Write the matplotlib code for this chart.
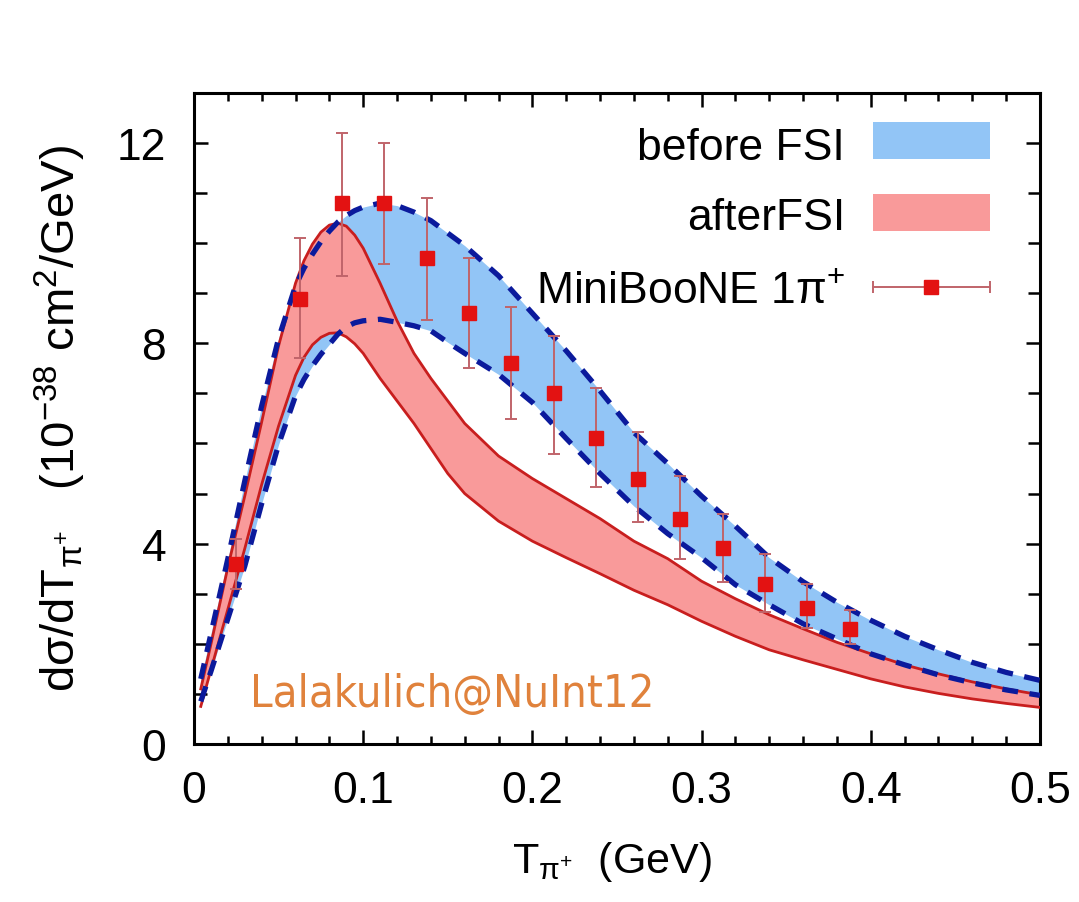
import numpy as np
import matplotlib
matplotlib.use("Agg")
import matplotlib.pyplot as plt
from matplotlib.patches import Rectangle
from matplotlib.ticker import MultipleLocator

plt.rcParams['font.family'] = ['Liberation Sans', 'DejaVu Sans']
plt.rcParams['mathtext.fontset'] = 'custom'
plt.rcParams['mathtext.rm'] = 'Liberation Sans'
plt.rcParams['mathtext.it'] = 'Liberation Sans:italic'
plt.rcParams['mathtext.sf'] = 'Liberation Sans'

# ---- model bands: pion kinetic energy grid (GeV) ----
T_grid = [0.004, 0.01, 0.02, 0.03, 0.04, 0.05, 0.06, 0.065, 0.07, 0.075,
          0.08, 0.085, 0.09, 0.095, 0.10, 0.11, 0.12, 0.13, 0.14, 0.15,
          0.16, 0.18, 0.20, 0.22, 0.24, 0.26, 0.28, 0.30, 0.32, 0.34,
          0.36, 0.38, 0.40, 0.42, 0.44, 0.46, 0.48, 0.50]

# before FSI (upper / lower edge of band)
before_hi = [1.30, 2.20, 3.70, 5.25, 6.75, 8.10, 9.15, 9.50, 9.78, 10.03,
             10.24, 10.42, 10.55, 10.65, 10.72, 10.80, 10.75, 10.62, 10.45, 10.20,
             9.95, 9.35, 8.60, 7.85, 7.05, 6.22, 5.60, 4.95, 4.35, 3.72,
             3.24, 2.83, 2.47, 2.15, 1.88, 1.63, 1.43, 1.27]
before_lo = [0.85, 1.45, 2.50, 3.55, 4.80, 5.98, 6.95, 7.28, 7.55, 7.78,
             7.98, 8.18, 8.33, 8.41, 8.45, 8.48, 8.42, 8.35, 8.25, 8.02,
             7.80, 7.38, 6.82, 6.10, 5.40, 4.75, 4.20, 3.72, 3.18, 2.78,
             2.40, 2.10, 1.80, 1.58, 1.38, 1.22, 1.08, 0.97]

# after FSI (upper / lower edge of band)
after_hi = [1.10, 1.99, 3.53, 4.95, 6.43, 7.95, 9.20, 9.65, 9.98, 10.22,
            10.36, 10.40, 10.34, 10.16, 9.90, 9.20, 8.45, 7.80, 7.30, 6.85,
            6.40, 5.75, 5.30, 4.90, 4.50, 4.05, 3.70, 3.25, 2.90, 2.58,
            2.30, 2.03, 1.80, 1.58, 1.40, 1.24, 1.10, 0.98]
after_lo = [0.75, 1.48, 2.69, 3.90, 5.18, 6.35, 7.36, 7.72, 7.97, 8.12,
            8.20, 8.21, 8.13, 7.99, 7.80, 7.30, 6.85, 6.40, 5.90, 5.40,
            5.00, 4.45, 4.05, 3.72, 3.40, 3.07, 2.78, 2.45, 2.15, 1.88,
            1.68, 1.49, 1.30, 1.14, 1.01, 0.90, 0.81, 0.73]

# ---- MiniBooNE 1pi+ data ----
mb_T = [0.025, 0.0625, 0.0875, 0.1125, 0.1375, 0.1625, 0.1875, 0.2125,
        0.2375, 0.2625, 0.2875, 0.3125, 0.3375, 0.3625, 0.3875]
mb_xsec = [3.60, 8.88, 10.80, 10.80, 9.70, 8.60, 7.60, 7.00,
           6.10, 5.29, 4.50, 3.92, 3.20, 2.71, 2.30]
mb_upper = [4.10, 10.10, 12.20, 12.00, 10.90, 9.71, 8.72, 8.14,
            7.10, 6.23, 5.35, 4.60, 3.79, 3.20, 2.67]
mb_lower = [3.10, 7.70, 9.35, 9.58, 8.47, 7.50, 6.49, 5.80,
            5.13, 4.43, 3.70, 3.23, 2.63, 2.32, 2.00]

x_ticks = [0, 0.1, 0.2, 0.3, 0.4, 0.5]
x_tick_labels = ['0', '0.1', '0.2', '0.3', '0.4', '0.5']
y_ticks = [0, 4, 8, 12]
y_tick_labels = ['0', '4', '8', '12']

BLUE_FILL = '#92c5f6'
RED_FILL = '#f99a9a'
RED_LINE = '#c81e1e'
BLUE_LINE = '#0b1a9c'
MARK = '#e31212'
ERR = '#c0646a'

fig = plt.figure(figsize=(10.79, 9.03), dpi=100)
ax = fig.add_axes([0.1798, 0.175, 0.784, 0.721])

ax.fill_between(T_grid, before_lo, before_hi, color=BLUE_FILL, lw=0, zorder=1)
ax.fill_between(T_grid, after_lo, after_hi, color=RED_FILL, lw=0, zorder=2)
ax.plot(T_grid, after_hi, color=RED_LINE, lw=2.0, zorder=3)
ax.plot(T_grid, after_lo, color=RED_LINE, lw=2.0, zorder=3)
ax.plot(T_grid, before_hi, color=BLUE_LINE, lw=3.8, dashes=(3, 2.2), zorder=4)
ax.plot(T_grid, before_lo, color=BLUE_LINE, lw=3.8, dashes=(3, 2.2), zorder=4)

y = np.array(mb_xsec)
yerr = [y - np.array(mb_lower), np.array(mb_upper) - y]
ax.errorbar(mb_T, mb_xsec, yerr=yerr, fmt='s', ms=10.5, mfc=MARK, mec=MARK,
            ecolor=ERR, elinewidth=1.4, capsize=4.3, capthick=1.4, zorder=5)

ax.set_xlim(0, 0.5)
ax.set_ylim(0, 13)
ax.set_xticks(x_ticks, x_tick_labels)
ax.set_yticks(y_ticks, y_tick_labels)
ax.xaxis.set_minor_locator(MultipleLocator(0.02))
ax.yaxis.set_minor_locator(MultipleLocator(1))
ax.tick_params(which='both', direction='in', top=True, right=True, width=1.8)
ax.tick_params(which='major', length=10, labelsize=32)
ax.tick_params(axis='x', which='major', pad=19)
ax.tick_params(axis='y', which='major', pad=20)
ax.tick_params(axis='x', which='minor', length=6)
ax.tick_params(axis='y', which='minor', length=9)
for s in ax.spines.values():
    s.set_linewidth(2.2)

# key
ax.text(0.7695, 0.8986, 'before FSI', transform=ax.transAxes,
        ha='right', va='baseline', fontsize=32)
ax.text(0.7695, 0.7910, 'afterFSI', transform=ax.transAxes,
        ha='right', va='baseline', fontsize=32)
ax.text(0.7695, 0.6790, r'MiniBooNE 1$\mathrm{\pi}^{+}$', transform=ax.transAxes,
        ha='right', va='baseline', fontsize=32)
ax.add_patch(Rectangle((0.8026, 0.8986), 0.1383, 0.0569, transform=ax.transAxes,
                       facecolor=BLUE_FILL, edgecolor='none', zorder=6))
ax.add_patch(Rectangle((0.8026, 0.7880), 0.1383, 0.0570, transform=ax.transAxes,
                       facecolor=RED_FILL, edgecolor='none', zorder=6))
ax.plot([0.8026, 0.9409], [0.702, 0.702], transform=ax.transAxes,
        color=ERR, lw=1.4, zorder=6)
ax.plot([0.8026, 0.9409], [0.702, 0.702], transform=ax.transAxes, ls='none',
        marker='|', ms=8.6, mew=1.4, color=ERR, zorder=6)
ax.plot([0.8717], [0.702], transform=ax.transAxes, ls='none', marker='s',
        ms=10.5, mfc=MARK, mec=MARK, zorder=7)

ax.text(0.066, 0.0584, 'Lalakulich@NuInt12', transform=ax.transAxes,
        ha='left', va='baseline', fontsize=32.5, color='#e0823c',
        family='DejaVu Sans', fontstretch='condensed', zorder=6)

fig.text(612 / 1079, 1 - 862 / 903, r'T$_{\mathrm{\pi}^{+}}$  (GeV)',
         ha='center', va='center', fontsize=31)
fig.text(60 / 1079, 1 - 418 / 903,
         r'd$\mathrm{\sigma}$/dT$_{\mathrm{\pi}^{+}}$   (10$^{-38}$ cm$^{2}$/GeV)',
         ha='center', va='center', rotation=90, fontsize=34)

fig.savefig('out.png', dpi=100)
